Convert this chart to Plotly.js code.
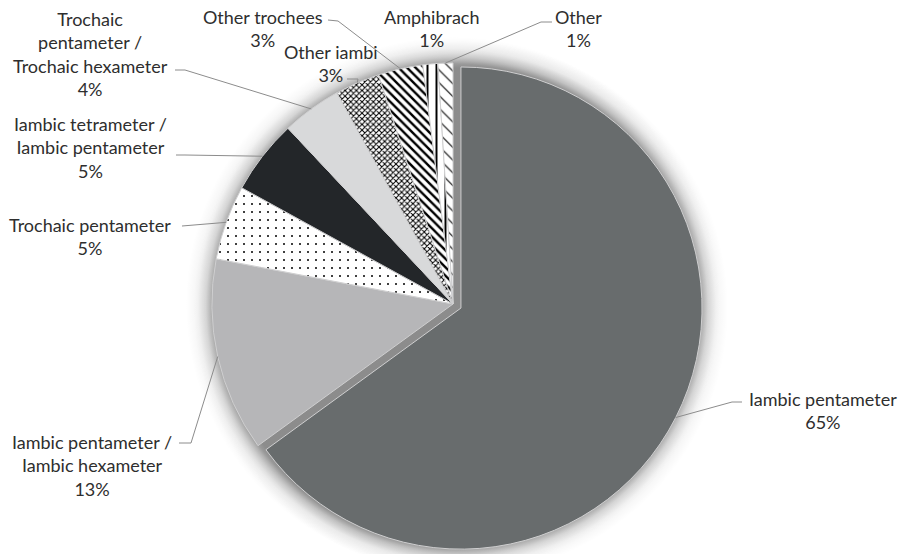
<!DOCTYPE html>
<html>
<head>
<meta charset="utf-8">
<script src="https://cdn.plot.ly/plotly-3.0.1.min.js"></script>
<style>
  html, body { margin: 0; padding: 0; background: #ffffff; }
  #wrap { position: relative; width: 906px; height: 554px; overflow: hidden; background: #ffffff; }
  #halo { position: absolute; left: 0; top: 0; width: 906px; height: 554px; }
  #chart { position: absolute; left: 0; top: 0; width: 906px; height: 554px; }
</style>
</head>
<body>
<div id="wrap">
  <div id="halo"></div>
  <div id="chart"></div>
</div>
<script>
// Metre categories, clockwise from 12 o'clock
const meters = [
  'Iambic pentameter',
  'Iambic pentameter / Iambic hexameter',
  'Trochaic pentameter',
  'Iambic tetrameter / Iambic pentameter',
  'Trochaic pentameter / Trochaic hexameter',
  'Other iambi',
  'Other trochees',
  'Amphibrach',
  'Other'
];
// Label text with its line breaks
const labelText = [
  'Iambic pentameter',
  'Iambic pentameter /<br>Iambic hexameter',
  'Trochaic pentameter',
  'Iambic tetrameter /<br>Iambic pentameter',
  'Trochaic<br>pentameter /<br>Trochaic hexameter',
  'Other iambi',
  'Other trochees',
  'Amphibrach',
  'Other'
];
// Share of poems, percent
const shares = [65, 13, 5, 5, 4, 3, 3, 1, 1];

// ---- styling ----
const W = 906, H = 554, TOP = 54;
const fillColors = ['#686c6d', '#b6b6b8', '#ffffff', '#232629', '#d8d9da', '#ffffff', '#ffffff', '#ffffff', '#ffffff'];
const patShapes  = ['', '', '.', '', '', 'x', '\\', '|', '\\'];
const patSizes   = [8, 8, 8, 8, 8, 4, 6, 9, 9];
const patSolid   = [0.3, 0.3, 0.05, 0.3, 0.3, 0.45, 0.4, 0.22, 0.12];
const pulls      = [0.037, 0, 0, 0, 0, 0, 0, 0, 0];

// label centres (px) and the text-side points of each leader line
const labelPos = [[823, 410], [92, 465], [90, 236], [90, 147], [90, 54], [331, 63], [263, 29], [431, 29], [578, 29]];
const leaderPts = [
  [[742, 402], [732, 402]],
  [[179, 443], [191, 443]],
  [[182, 226]],
  [[176, 155], [185, 155]],
  [[175, 70], [185, 70]],
  [[347, 79], [358, 79]],
  [[328, 20], [338, 21]],
  null,
  [[552, 22], [541, 22]]
];

const toX = px => px / W;
const toY = py => (H - py) / (H - TOP);

const trace = {
  type: 'pie',
  labels: meters,
  values: shares,
  sort: false,
  direction: 'clockwise',
  rotation: 0,
  pull: pulls,
  textinfo: 'none',
  hoverinfo: 'none',
  showlegend: false,
  domain: { x: [0, 1], y: [0, 1] },
  marker: {
    colors: fillColors,
    line: { color: '#cfcfd0', width: 1 },
    pattern: {
      shape: patShapes,
      fgcolor: '#000000',
      bgcolor: fillColors,
      size: patSizes,
      solidity: patSolid,
      fillmode: 'replace'
    }
  }
};

const annotations = meters.map((m, i) => ({
  xref: 'paper', yref: 'paper',
  x: toX(labelPos[i][0]), y: toY(labelPos[i][1]),
  xanchor: 'center', yanchor: 'middle',
  align: 'center',
  showarrow: false,
  text: labelText[i] + '<br>' + shares[i] + '%',
  font: { family: 'Lato, "Open Sans", sans-serif', size: 18, color: '#2e2e2e' }
}));

const layout = {
  width: W, height: H,
  margin: { l: 0, r: 0, t: TOP, b: 0 },
  paper_bgcolor: 'rgba(0,0,0,0)',
  plot_bgcolor: 'rgba(0,0,0,0)',
  annotations: annotations
};

// soft grey halo behind the pie (one radial fade per disc outline)
function drawHalo(discs) {
  const grads = discs.map(([x, y, r]) =>
    'radial-gradient(circle at ' + x.toFixed(1) + 'px ' + y.toFixed(1) + 'px, ' +
    'rgba(0,0,0,0.26) ' + (r - 1).toFixed(1) + 'px, ' +
    'rgba(0,0,0,0.13) ' + (r + 6).toFixed(1) + 'px, ' +
    'rgba(0,0,0,0.045) ' + (r + 14).toFixed(1) + 'px, ' +
    'rgba(0,0,0,0) ' + (r + 26).toFixed(1) + 'px)');
  document.getElementById('halo').style.background = grads.join(', ');
}

Plotly.newPlot('chart', [trace], layout, { displayModeBar: false, staticPlot: true }).then(gd => {
  const pts = gd.calcdata[0];
  const c0 = pts[0];
  const cx = c0.cx, cy = c0.cy;
  const r = Math.hypot(pts[0].pxmid[0], pts[0].pxmid[1]);
  const kb = pulls[0];
  drawHalo([
    [cx, cy, r],
    [cx + pts[0].pxmid[0] * kb, cy + pts[0].pxmid[1] * kb, r]
  ]);
  const shapes = [];
  pts.forEach((pt, i) => {
    const lp = leaderPts[i];
    if (!lp) return;
    const k = 1 + (pulls[i] || 0);
    const ax = cx + pt.pxmid[0] * k;
    const ay = cy + pt.pxmid[1] * k;
    const all = lp.concat([[ax, ay]]);
    const d = all.map((p, j) => (j ? 'L' : 'M') + toX(p[0]).toFixed(5) + ',' + toY(p[1]).toFixed(5)).join(' ');
    shapes.push({
      type: 'path', xref: 'paper', yref: 'paper', path: d,
      line: { color: '#8c8c8c', width: 1 }
    });
  });
  return Plotly.relayout(gd, { shapes: shapes });
});
</script>
</body>
</html>
